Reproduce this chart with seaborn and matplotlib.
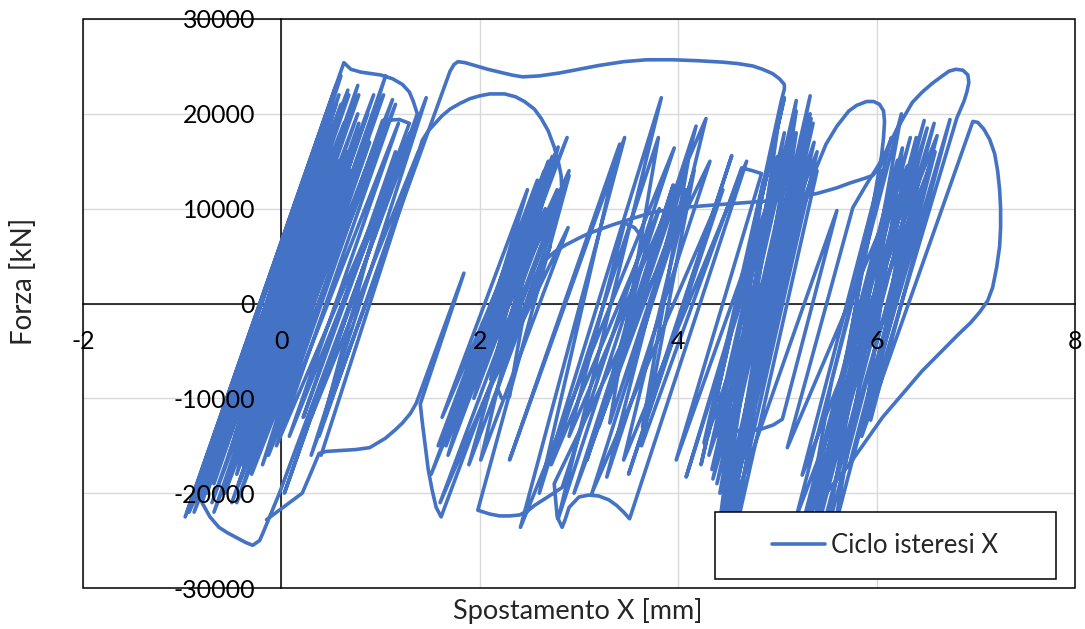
import seaborn as sns
import matplotlib.pyplot as plt
import pandas as pd
from matplotlib.patches import Rectangle

# punti: (spostamento mm, forza kN)
cicli_a = [
    (0.00, 0), (-0.17, -5000), (0.20, 6000), (-0.25, -9000), (0.35, 9000),
    (-0.45, -12000), (0.35, 12000), (-0.45, -15000), (0.52, 14000),
    (-0.70, -18000), (0.47, 17000), (-0.53, -16000), (0.63, 19000),
    (-0.82, -20000), (0.55, 21000), (-0.68, -19000), (0.68, 22000),
    (-0.95, -22000), (0.55, 23000), (-0.70, -18000), (0.60, 21000),
    (-0.90, -21000), (0.60, 24000), (-0.75, -20000), (0.67, 22500),
    (-0.97, -22500), (0.63, 25400), (0.70, 24700), (0.80, 24400), (1.00, 24100),
    (1.12, 23700), (1.22, 23100), (1.29, 22300), (1.33, 21300), (1.37, 20000),
    (0.03, -20000), (1.30, 18000),
    (0.08, -14000), (1.18, 19000), (-0.13, -16000), (1.12, 21500),
    (-0.45, -21000), (1.05, 24000), (-0.19, -17000), (1.02, 19300),
    (1.19, 19400), (1.29, 19000), (0.22, -12000), (1.15, 16000),
    (0.38, -14000), (1.38, 16000), (0.30, -12000), (1.30, 18000),
    (-0.05, -15000), (1.15, 21000), (-0.30, -18000), (1.03, 22000),
    (-0.43, -19000), (0.93, 22000), (-0.57, -20000), (0.77, 20000),
    (-0.70, -21000), (0.77, 23000), (-0.38, -16000), (0.78, 19000),
    (-0.10, -12000), (0.87, 17000), (-0.50, -21000), (0.87, 20000),
    (-0.68, -22000), (0.78, 22000), (-0.88, -22000), (0.58, 22000),
    (-0.52, -14000), (0.42, 14000), (-0.28, -10000), (0.42, 11000),
    (-0.23, -13000), (0.70, 15000), (-0.27, -11000), (0.50, 12000),
    (-0.25, -15000), (0.68, 13000), (-0.18, -9000), (0.65, 16000),
    (-0.12, -12000), (0.61, 10000), (-0.47, -14000), (0.43, 13000),
    (-0.39, -17000), (0.58, 12000), (-0.01, -10000), (0.89, 17000),
    (-0.48, -12000), (0.22, 9000), (-0.05, -8000), (0.69, 14000),
    (-0.45, -16000), (0.58, 15000), (-0.77, -20000), (0.50, 18000),
    (-0.45, -18000), (0.68, 16000), (-0.93, -22000), (0.50, 21000),
    (-0.80, -21000), (-0.72, -22500), (-0.63, -23600), (-0.54, -24200),
    (-0.45, -24700), (-0.36, -25200), (-0.29, -25500), (-0.22, -25000),
    (-0.19, -24300), (-0.02, -20000), (1.46, 21700), (0.30, -16000),
]

picco_alto = [
    (1.70, 24500), (1.74, 25200), (1.78, 25500), (1.85, 25400), (1.95, 25100),
    (2.08, 24700), (2.20, 24400), (2.32, 24100), (2.43, 23900), (2.60, 24000),
    (2.80, 24300), (3.00, 24700), (3.20, 25100), (3.45, 25500), (3.68, 25700),
    (3.95, 25700), (4.20, 25600), (4.45, 25450), (4.60, 25300), (4.75, 25050),
    (4.85, 24700), (4.95, 24250), (5.02, 23700), (5.07, 23100), (5.07, 22600),
    (5.04, 21400),
]

cicli_d = [
    (4.30, -14000), (5.07, 21700), (4.23, -17000), (5.01, 19000),
    (4.40, -25000), (5.33, 20000), (4.34, -17500), (5.19, 21400),
    (4.46, -25000), (5.37, 17000), (4.31, -16000), (5.00, 15500),
    (4.43, -24000), (5.36, 19000), (4.35, -18500), (5.19, 20300),
    (4.51, -25000), (5.40, 16000), (4.26, -14700), (4.86, 13000),
    (4.42, -23000), (5.34, 19500), (4.39, -19000), (5.19, 18000),
    (4.58, -24000), (5.40, 14000), (4.38, -14000), (5.07, 18000),
    (4.42, -20000), (5.33, 21900), (4.41, -26000), (5.31, 15000),
    (4.42, -10000), (4.44, -11500), (4.47, -12500), (4.53, -13100),
    (4.60, -13400), (4.72, -13400), (4.85, -13200), (4.96, -12800),
    (5.05, -12200), (5.60, 9800), (4.50, -23000), (5.29, 11600),
    (5.34, 13100), (5.40, 14500), (5.49, 16800), (5.60, 18700), (5.72, 20300),
    (5.80, 20900), (5.90, 21300), (5.97, 21300), (6.03, 21000), (6.07, 20300),
    (6.08, 19200), (6.07, 17500), (6.05, 15600),
]

cicli_e = [
    (5.40, -24000), (6.48, 19300), (5.35, -22000), (6.34, 17500),
    (5.26, -23000), (6.21, 15100), (5.57, -24000), (6.61, 17700),
    (5.25, -18100), (6.05, 14000), (5.34, -25000), (6.40, 17500),
    (5.94, -12300), (6.74, 19400), (5.73, -16900), (6.45, 12000),
    (5.50, -22000), (6.51, 18500), (5.25, -24000), (6.26, 16400),
    (5.88, -12500), (6.59, 16000), (5.19, -22500), (6.25, 20000),
    (5.48, -25000), (6.58, 19000), (5.45, -20000), (6.31, 14500),
]

anello_destro = [
    (5.10, -15200), (5.76, 10100), (5.90, 12600), (6.05, 15100), (6.20, 18300),
    (6.36, 21200), (6.46, 22300), (6.56, 23200), (6.65, 23900), (6.73, 24500),
    (6.80, 24700), (6.87, 24600), (6.92, 24100), (6.93, 23300), (6.91, 22300),
    (6.88, 21300), (6.81, 19600), (5.85, -14000), (6.97, 19200), (7.02, 19100),
    (7.08, 18400), (7.14, 17300), (7.19, 15800), (7.22, 14000), (7.24, 12000),
    (7.25, 10000), (7.25, 8000), (7.24, 6000), (7.21, 3800), (7.17, 1700),
    (7.12, 300), (7.04, -900), (6.95, -2000), (6.83, -3200), (6.46, -7100),
    (6.06, -12000), (5.73, -16900), (5.35, -21800), (5.15, -24500),
]

deriva_b = [
    (-0.15, -22800), (0.21, -20000), (0.30, -17800), (0.38, -15800),
    (0.45, -15600), (0.60, -15500), (0.75, -15400), (0.89, -15200),
    (1.05, -14200), (1.15, -13300), (1.22, -12600), (1.30, -11600),
    (1.36, -10500), (1.84, 3200), (1.40, -10600), (1.42, -12500),
    (1.45, -15000), (1.48, -17500), (1.52, -19700), (1.56, -21500), (1.61, -22500),
]

cicli_b = [
    (2.84, 12000), (1.65, -14000), (2.69, 15000), (1.66, -15000), (2.77, 16000),
    (1.62, -12000), (2.48, 12000), (1.68, -16000), (2.88, 17500),
    (1.51, -18000), (2.65, 14000), (1.94, -10000), (2.66, 10000),
    (1.58, -15000), (2.58, 13000), (2.11, -8000), (2.90, 14000),
    (1.74, -13000), (2.79, 16500), (1.89, -17000), (2.71, 6000),
    (1.60, -21000), (2.78, 12000), (1.79, -11000), (2.73, 15500),
    (2.01, -16500), (2.89, 8000), (2.10, -9000), (2.90, 13500),
    (1.98, -21800), (2.10, -22200), (2.20, -22400), (2.30, -22400),
    (2.40, -22300), (2.48, -21900), (2.55, -21300), (2.67, -20500), (2.83, -19400),
]

cicli_c = [
    (3.96, 16400), (2.41, -23600), (3.46, 17500), (2.30, -16500), (3.41, 16800),
    (2.60, -20000), (3.83, 21700), (2.79, -22700), (3.81, 10000),
    (2.72, -17000), (3.80, 17500), (3.31, -12600), (4.08, 12000),
    (2.95, -20000), (3.95, 12500), (3.08, -16500), (4.18, 18700),
    (3.28, -18300), (4.32, 15000), (2.75, -19000), (2.78, -22500),
    (2.83, -23600), (2.86, -22800), (2.90, -21500), (3.00, -20400),
    (3.10, -20200), (3.20, -20300), (3.30, -20700), (3.38, -21300),
    (3.45, -22000), (3.51, -22700), (4.69, 15000), (3.45, -16500),
    (4.28, 19500), (2.90, -14000), (3.46, 8500), (3.56, 8000), (3.64, 6900),
    (3.68, 5800), (3.20, -13000), (4.10, 15000), (3.64, -13000),
    (4.54, 15600), (3.50, -18000), (4.45, 12000), (3.13, -20000),
    (4.16, 14000), (3.63, -15000), (4.64, 14300), (4.75, 14000),
    (4.84, 13700), (3.98, -16500), (4.95, 12000), (4.08, -18300), (4.90, 9000),
]

arco_dorsale = [
    (0.40, -16000), (1.42, 17200), (1.48, 18200), (1.55, 19000), (1.62, 19800),
    (1.70, 20500), (1.80, 21100), (1.90, 21600), (2.00, 21900), (2.10, 22100),
    (2.25, 22100), (2.36, 21800), (2.45, 21300), (2.55, 20500), (2.62, 19500),
    (2.69, 18200), (2.75, 16500), (2.79, 15000), (2.82, 13500), (2.83, 11000),
    (2.18, -9000), (2.22, -10000), (2.30, -9800), (2.36, -6000), (2.42, -2500),
    (2.48, 500), (2.55, 2800), (2.65, 4500), (2.76, 5500), (2.87, 6200),
    (3.00, 6900), (3.10, 7400), (3.34, 8300), (3.55, 9000), (3.74, 9600),
    (4.01, 10100), (4.50, 10500), (5.02, 10900), (5.40, 11600), (5.60, 12200),
    (5.73, 12700), (5.88, 13200), (5.96, 13500), (6.03, 14300), (6.08, 15500),
    (6.15, 17500), (5.55, -8000), (5.30, -23000),
]

x_ticks = [-2, 0, 2, 4, 6, 8]
y_ticks = [-30000, -20000, -10000, 0, 10000, 20000, 30000]
colore = "#4472C4"

tratti = [
    cicli_a + picco_alto + cicli_d + cicli_e + anello_destro,
    deriva_b + cicli_b + cicli_c,
    arco_dorsale,
]
rows = []
for i, tratto in enumerate(tratti):
    for x, y in tratto:
        rows.append({"tratto": i, "x": x, "y": y})
df = pd.DataFrame(rows)

sns.set_style("white")
plt.rcParams["font.family"] = ["Lato", "DejaVu Sans"]
plt.rcParams["axes.unicode_minus"] = False

fig = plt.figure(figsize=(10.85, 6.29), dpi=100)
ax = fig.add_axes([83 / 1085, 1 - 588 / 629, 992 / 1085, 569 / 629])

for xv in x_ticks:
    ax.axvline(xv, color="#D9D9D9", linewidth=1.0, zorder=0.5)
for yv in y_ticks:
    ax.axhline(yv, color="#D9D9D9", linewidth=1.0, zorder=0.5)

sns.lineplot(data=df, x="x", y="y", units="tratto", estimator=None, sort=False,
             color=colore, linewidth=2.6, ax=ax, zorder=2)
data_lines = [ln for ln in ax.lines if ln.get_linewidth() > 2]
for line in data_lines:
    line.set_solid_joinstyle("round")
    line.set_solid_capstyle("round")

ax.set_xlim(-2, 8)
ax.set_ylim(-30000, 30000)
ax.set_xticks(x_ticks)
ax.set_yticks(y_ticks)
ax.set_xticklabels([str(v) for v in x_ticks])
ax.set_yticklabels([str(v) for v in y_ticks])
ax.set_xlabel("")
ax.set_ylabel("")

ax.spines["left"].set_position(("data", 0))
ax.spines["bottom"].set_position(("data", 0))
ax.spines["top"].set_visible(False)
ax.spines["right"].set_visible(False)
for s in ("left", "bottom"):
    ax.spines[s].set_color("black")
    ax.spines[s].set_linewidth(1.1)
    ax.spines[s].set_zorder(1)
ax.xaxis.set_zorder(3)
ax.yaxis.set_zorder(3)
ax.tick_params(direction="in", length=6.5, width=1.0, color="black",
               labelsize=18, labelcolor="black", pad=19)

ax.add_patch(Rectangle((0, 0), 1, 1, transform=ax.transAxes, fill=False,
                       edgecolor="black", linewidth=1.1, clip_on=False, zorder=6))

# riquadro legenda
ax.add_patch(Rectangle(((715 - 83) / 992, (588 - 579) / 569), 341 / 992, 67 / 569,
                       transform=ax.transAxes, facecolor="white", edgecolor="black",
                       linewidth=1.1, zorder=4))
leg = ax.legend(handles=[data_lines[0]], labels=["Ciclo isteresi X"], loc="center",
                bbox_to_anchor=((885.5 - 83) / 992, (588 - 545.5) / 569),
                frameon=False, fontsize=18.5, handlelength=2.05, handletextpad=0.25)
leg.set_zorder(5)

fig.text(578 / 1085, 1 - 611 / 629, "Spostamento X [mm]", ha="center", va="center", fontsize=19.5)
fig.text(24 / 1085, 1 - 281 / 629, "Forza [kN]", ha="center", va="center", fontsize=20, rotation=90)

fig.savefig("out.png", dpi=100)
